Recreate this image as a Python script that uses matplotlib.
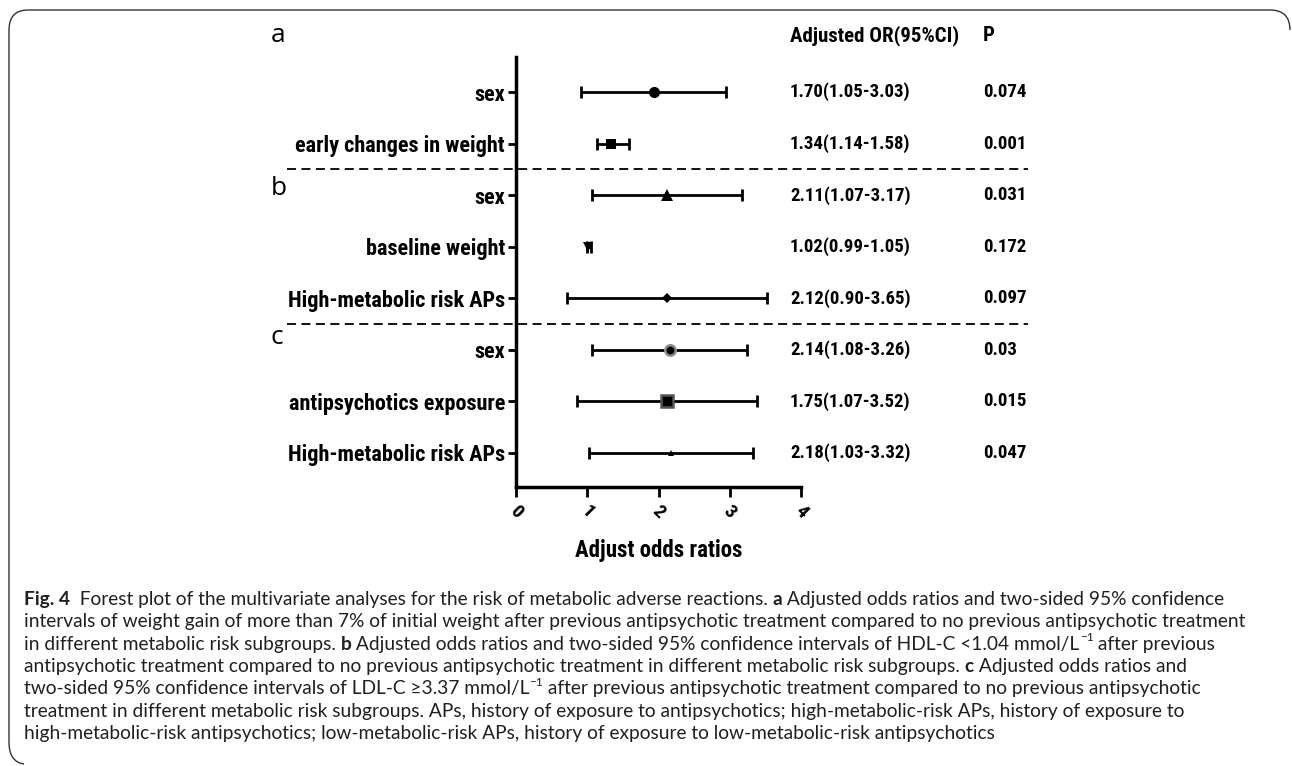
import matplotlib
matplotlib.use("Agg")
import matplotlib.pyplot as plt
from matplotlib import font_manager
from matplotlib.font_manager import FontProperties
from matplotlib.transforms import blended_transform_factory
from matplotlib.path import Path
from matplotlib.patches import PathPatch

# ---- данные ----
labels = ["sex", "early changes in weight", "sex", "baseline weight",
          "High-metabolic risk APs", "sex", "antipsychotics exposure",
          "High-metabolic risk APs"]
points = [1.93, 1.34, 2.12, 1.01, 2.12, 2.16, 2.12, 2.18]
lower = [0.91, 1.13, 1.06, 0.99, 0.72, 1.07, 0.85, 1.03]
upper = [2.95, 1.58, 3.17, 1.05, 3.52, 3.24, 3.38, 3.33]
or_text = ["1.70(1.05-3.03)", "1.34(1.14-1.58)", "2.11(1.07-3.17)", "1.02(0.99-1.05)",
           "2.12(0.90-3.65)", "2.14(1.08-3.26)", "1.75(1.07-3.52)", "2.18(1.03-3.32)"]
p_text = ["0.074", "0.001", "0.031", "0.172", "0.097", "0.03", "0.015", "0.047"]
panels = ["a", "b", "c"]
xticks = [0, 1, 2, 3, 4]

W, H = 1292, 766
names = {f.name for f in font_manager.fontManager.ttflist}
cap_font = "Lato" if "Lato" in names else "DejaVu Sans"


def pick_narrow_bold():
    """ищем узкий жирный шрифт (как Arial Narrow Bold)"""
    order = ["Liberation Sans Narrow", "Roboto Condensed", "Open Sans Condensed",
             "Noto Sans", "DejaVu Sans"]
    for fam in order:
        for f in font_manager.fontManager.ttflist:
            cond = ("condensed" in str(f.stretch).lower() or "narrow" in f.fname.lower()
                    or "condensed" in f.fname.lower())
            bold = f.weight in (700, "bold") or "bold" in f.fname.lower()
            italic = "italic" in f.fname.lower() or "oblique" in f.fname.lower()
            if f.name.startswith(fam) and cond and bold and not italic:
                if "semi" in f.fname.lower() or "extra" in f.fname.lower():
                    continue
                return f.fname
    return None


narrow_file = pick_narrow_bold()


def nfp(size):
    if narrow_file:
        return FontProperties(fname=narrow_file, size=size)
    return FontProperties(family="DejaVu Sans", weight="bold", size=size)


fig = plt.figure(figsize=(W / 100, H / 100), dpi=100)
fig.patch.set_facecolor("white")


def fx(px):
    return px / W


def fy(py):
    return 1 - py / H


# оси: x 516..801, y 57..487
ax = fig.add_axes([fx(516), fy(487), fx(801) - fx(516), fy(57) - fy(487)])
n = len(labels)
rows = list(range(n))
ax.set_xlim(0, 4)
ax.set_ylim(7.66, -0.68)

styles = [
    dict(marker="o", ms=8, mfc="black", mec="black", mew=0),
    dict(marker="s", ms=7.5, mfc="black", mec="black", mew=0),
    dict(marker="^", ms=8, mfc="black", mec="black", mew=0),
    dict(marker="v", ms=7, mfc="black", mec="black", mew=0),
    dict(marker="D", ms=5, mfc="black", mec="black", mew=0),
    dict(marker="o", ms=7.5, mfc="black", mec="#8c8c8c", mew=1.8),
    dict(marker="s", ms=8.5, mfc="black", mec="#555555", mew=1.8),
    dict(marker="^", ms=4.5, mfc="black", mec="black", mew=0),
]
for i in rows:
    ax.errorbar(points[i], i, xerr=[[points[i] - lower[i]], [upper[i] - points[i]]],
                fmt="none", ecolor="black", elinewidth=2, capsize=4, capthick=2)
    ax.plot(points[i], i, linestyle="none", zorder=3, **styles[i])

for s in ["top", "right"]:
    ax.spines[s].set_visible(False)
for s in ["left", "bottom"]:
    ax.spines[s].set_linewidth(2.5)

ax.set_yticks(rows)
ax.set_yticklabels(labels)
for t in ax.get_yticklabels():
    t.set_fontproperties(nfp(16))
ax.set_xticks(xticks)
ax.set_xticklabels([str(t) for t in xticks], rotation=-45, ha="center", va="top")
for t in ax.get_xticklabels():
    t.set_fontproperties(nfp(14))
ax.tick_params(axis="y", length=6, width=2, pad=2)
ax.tick_params(axis="x", length=7, width=2, pad=4)
ax.set_xlabel("Adjust odds ratios", fontproperties=nfp(16.5), labelpad=12)

# таблица справа и разделители
tr = blended_transform_factory(fig.transFigure, ax.transData)
ax.text(fx(790), -1.1, "Adjusted OR(95%CI)", transform=tr, fontproperties=nfp(15),
        va="center", ha="left")
ax.text(fx(983), -1.1, "P", transform=tr, fontproperties=nfp(15), va="center", ha="left")
for i in rows:
    ax.text(fx(790), i, or_text[i], transform=tr, fontproperties=nfp(13.5),
            va="center", ha="left")
    ax.text(fx(983), i, p_text[i], transform=tr, fontproperties=nfp(13.5),
            va="center", ha="left")

for yy in [1.5, 4.5]:
    ax.plot([fx(287), fx(1028)], [yy, yy], transform=tr, color="black", lw=1.3,
            linestyle=(0, (5, 3)), clip_on=False)

for lab, yy in zip(panels, [-1.1, 1.88, 4.77]):
    ax.text(fx(271), yy, lab, transform=tr, fontfamily="Open Sans", fontsize=19,
            va="center", ha="left")

# подпись рисунка
caption = [
    [("Fig. 4", "b"), ("  Forest plot of the multivariate analyses for the risk of metabolic adverse reactions. ", "n"),
     ("a", "b"), (" Adjusted odds ratios and two-sided 95% confidence", "n")],
    [("intervals of weight gain of more than 7% of initial weight after previous antipsychotic treatment compared to no previous antipsychotic treatment", "n")],
    [("in different metabolic risk subgroups. ", "n"), ("b", "b"),
     (" Adjusted odds ratios and two-sided 95% confidence intervals of HDL-C <1.04 mmol/L", "n"),
     ("\u22121", "s"), (" after previous", "n")],
    [("antipsychotic treatment compared to no previous antipsychotic treatment in different metabolic risk subgroups. ", "n"),
     ("c", "b"), (" Adjusted odds ratios and", "n")],
    [("two-sided 95% confidence intervals of LDL-C \u22653.37 mmol/L", "n"), ("\u22121", "s"),
     (" after previous antipsychotic treatment compared to no previous antipsychotic", "n")],
    [("treatment in different metabolic risk subgroups. APs, history of exposure to antipsychotics; high-metabolic-risk APs, history of exposure to", "n")],
    [("high-metabolic-risk antipsychotics; low-metabolic-risk APs, history of exposure to low-metabolic-risk antipsychotics", "n")],
]
cap_size = 13.8
renderer = fig.canvas.get_renderer()
for k, line in enumerate(caption):
    x = 24
    y = 598 + 22.3 * k
    for txt, kind in line:
        size = cap_size * (0.62 if kind == "s" else 1)
        yy = y - (6 if kind == "s" else 0)
        t = fig.text(fx(x), fy(yy), txt, fontfamily=cap_font, fontsize=size,
                     fontweight="bold" if kind == "b" else "normal",
                     color="#231f20", va="center_baseline", ha="left")
        bb = t.get_window_extent(renderer)
        x += bb.width

# рамка
verts = [(1290, 30), (1290, 10), (1270, 10), (28, 10), (9, 10), (9, 30),
         (9, 742), (9, 762), (24, 764)]
codes = [Path.MOVETO, Path.CURVE3, Path.CURVE3, Path.LINETO, Path.CURVE3, Path.CURVE3,
         Path.LINETO, Path.CURVE3, Path.CURVE3]
frame = Path([(fx(a), fy(b)) for a, b in verts], codes)
fig.add_artist(PathPatch(frame, transform=fig.transFigure, fill=False, lw=1.0,
                         edgecolor="#333333"))

fig.savefig("out.png", dpi=100)
